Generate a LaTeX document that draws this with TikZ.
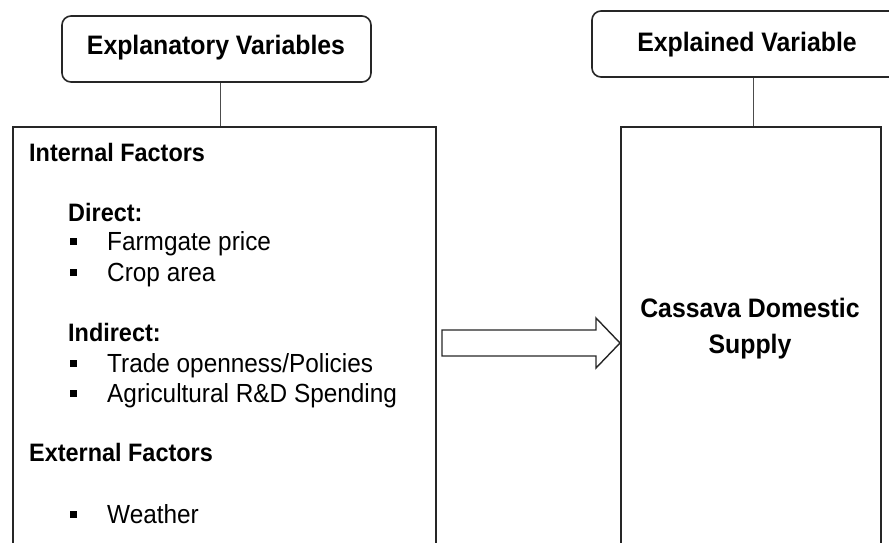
\documentclass[tikz,border=0pt]{standalone}
\usepackage{fontspec}
\setmainfont{Liberation Sans}[FakeStretch=0.93]
\newcommand\mybul{\makebox[37pt][l]{\rule[5.5pt]{6.5pt}{6.5pt}}}
\begin{document}
\begin{tikzpicture}[x=1pt,y=-1pt,
  box/.style={draw=black!85, line width=1.6pt, rectangle, inner sep=0pt},
  rbox/.style={box, rounded corners=9pt},
  conn/.style={draw=black!70, line width=1pt},
  blockarrow/.style={draw=black!85, line width=1.4pt, line join=miter},
  title/.style={font=\fontsize{26.7}{31}\selectfont\bfseries, inner sep=0pt, anchor=base},
  head/.style={font=\fontsize{25.2}{30}\selectfont\bfseries, inner sep=0pt, anchor=base west},
  item/.style={font=\fontsize{26.2}{31}\selectfont, inner sep=0pt, anchor=base west},
]
\useasboundingbox (0,0) rectangle (889,542);
\clip (0,0) rectangle (889,542);
% boxes
\node[rbox, minimum width=309pt, minimum height=66pt] (topL) at (216.5,49) {};
\node[rbox, minimum width=310pt, minimum height=66pt] (topR) at (747,44) {};
\node[box, minimum width=423pt, minimum height=460pt, anchor=north west] (bigL) at (12,126) {};
\node[box, minimum width=260pt, minimum height=460pt, anchor=north west] (bigR) at (620,126) {};
% titles
\node[title] (tL) at (216,54) {Explanatory Variables};
\node[title] (tR) at (747,51) {Explained Variable};
% connectors
\draw[conn] ([xshift=3.5pt]topL.south) -- ([xshift=3.5pt]topL.south |- bigL.north);
\draw[conn] ([xshift=6pt]topR.south) -- ([xshift=6pt]topR.south |- bigR.north);
% block arrow
\coordinate (tip) at (bigR.west |- 0,343);
\draw[blockarrow] ([shift={(-178,-13)}]tip) -- ([shift={(-24,-13)}]tip) -- ([shift={(-24,-25)}]tip)
   -- (tip) -- ([shift={(-24,25)}]tip) -- ([shift={(-24,13)}]tip) -- ([shift={(-178,13)}]tip) -- cycle;
% left content
\node[head] (h1) at (29,161) {Internal Factors};
\node[head] (h2) at (68,221) {Direct:};
\node[item] (i1) at (70,250) {\mybul Farmgate price};
\node[item] (i2) at (70,281) {\mybul Crop area};
\node[head] (h3) at (68,341) {Indirect:};
\node[item] (i3) at (70,372) {\mybul Trade openness/Policies};
\node[item] (i4) at (70,402) {\mybul Agricultural R\&D Spending};
\node[head] (h4) at (29,461) {External Factors};
\node[item] (i5) at (70,523) {\mybul Weather};
% right content
\node[title] (c1) at (750,317) {Cassava Domestic};
\node[title] (c2) at (750,353) {Supply};
\end{tikzpicture}
\end{document}
